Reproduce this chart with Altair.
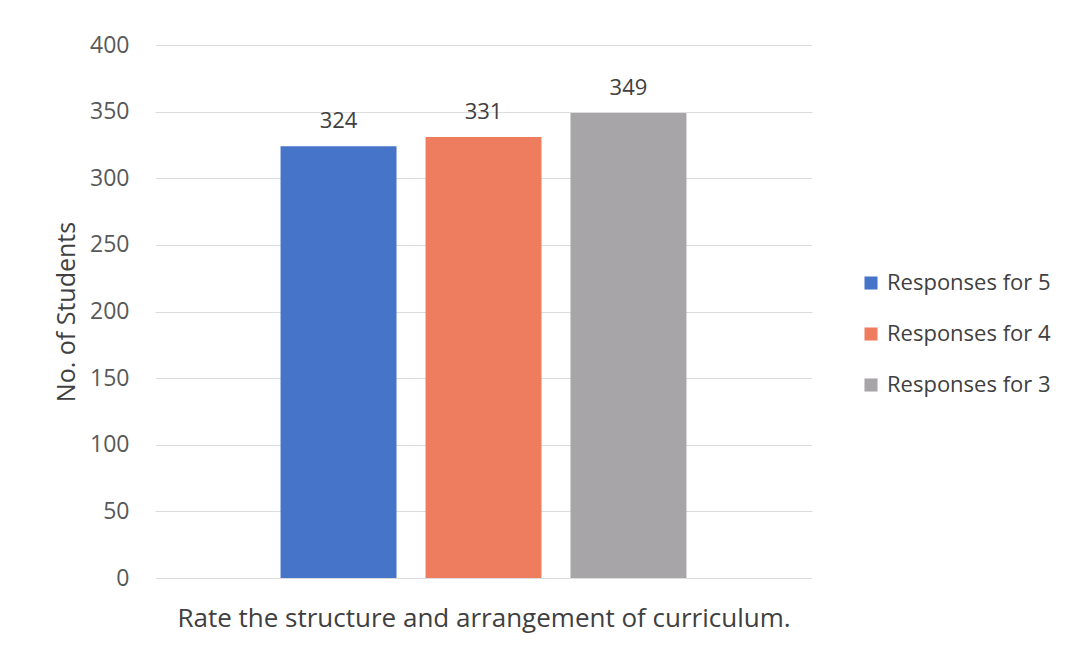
import altair as alt
import pandas as pd

series = ["Responses for 5", "Responses for 4", "Responses for 3"]
values = [324, 331, 349]
colors = ["#4674C9", "#EE7C5E", "#A7A5A7"]
y_ticks = [0, 50, 100, 150, 200, 250, 300, 350, 400]

df = pd.DataFrame({"series": series, "value": values})
FONT = "Open Sans"

x = alt.X("series:N", sort=series,
          scale=alt.Scale(paddingInner=0.2, paddingOuter=0.866),
          axis=alt.Axis(title="Rate the structure and arrangement of curriculum.",
                        labels=False, ticks=False, domain=False, grid=False,
                        titleFontSize=26, titleFont=FONT, titleColor="#404040",
                        titleFontWeight="normal", titlePadding=27))
y = alt.Y("value:Q", scale=alt.Scale(domain=[0, 400], nice=False),
          axis=alt.Axis(title="No. of Students", values=y_ticks, grid=True,
                        gridColor="#DDDDDD", domain=False, ticks=False,
                        labelPadding=26, labelFontSize=23, labelFont=FONT,
                        labelColor="#595959", titleFontSize=25, titleFont=FONT,
                        titleColor="#404040", titleFontWeight="normal",
                        titlePadding=10))

bars = alt.Chart(df).mark_bar().encode(
    x=x, y=y,
    color=alt.Color("series:N", sort=series,
                    scale=alt.Scale(domain=series, range=colors),
                    legend=alt.Legend(title=None, orient="none", legendX=705,
                                      legendY=227, labelFontSize=22, labelFont=FONT,
                                      labelColor="#404040", symbolType="square",
                                      symbolSize=170, symbolStrokeWidth=0,
                                      rowPadding=29, labelOffset=5, labelLimit=400)))

labels = alt.Chart(df).mark_text(baseline="bottom", dy=-13, fontSize=22,
                                 font=FONT, color="#404040").encode(
    x=alt.X("series:N", sort=series), y="value:Q", text="value:Q")

chart = (bars + labels).properties(
    width=657, height=533,
    autosize=alt.AutoSizeParams(type="none"),
    padding={"left": 147, "top": 37, "right": 256, "bottom": 64},
).configure(background="white", view=alt.ViewConfig(stroke=None))

chart.save("out.html", embed_options={"renderer": "svg", "actions": False})
